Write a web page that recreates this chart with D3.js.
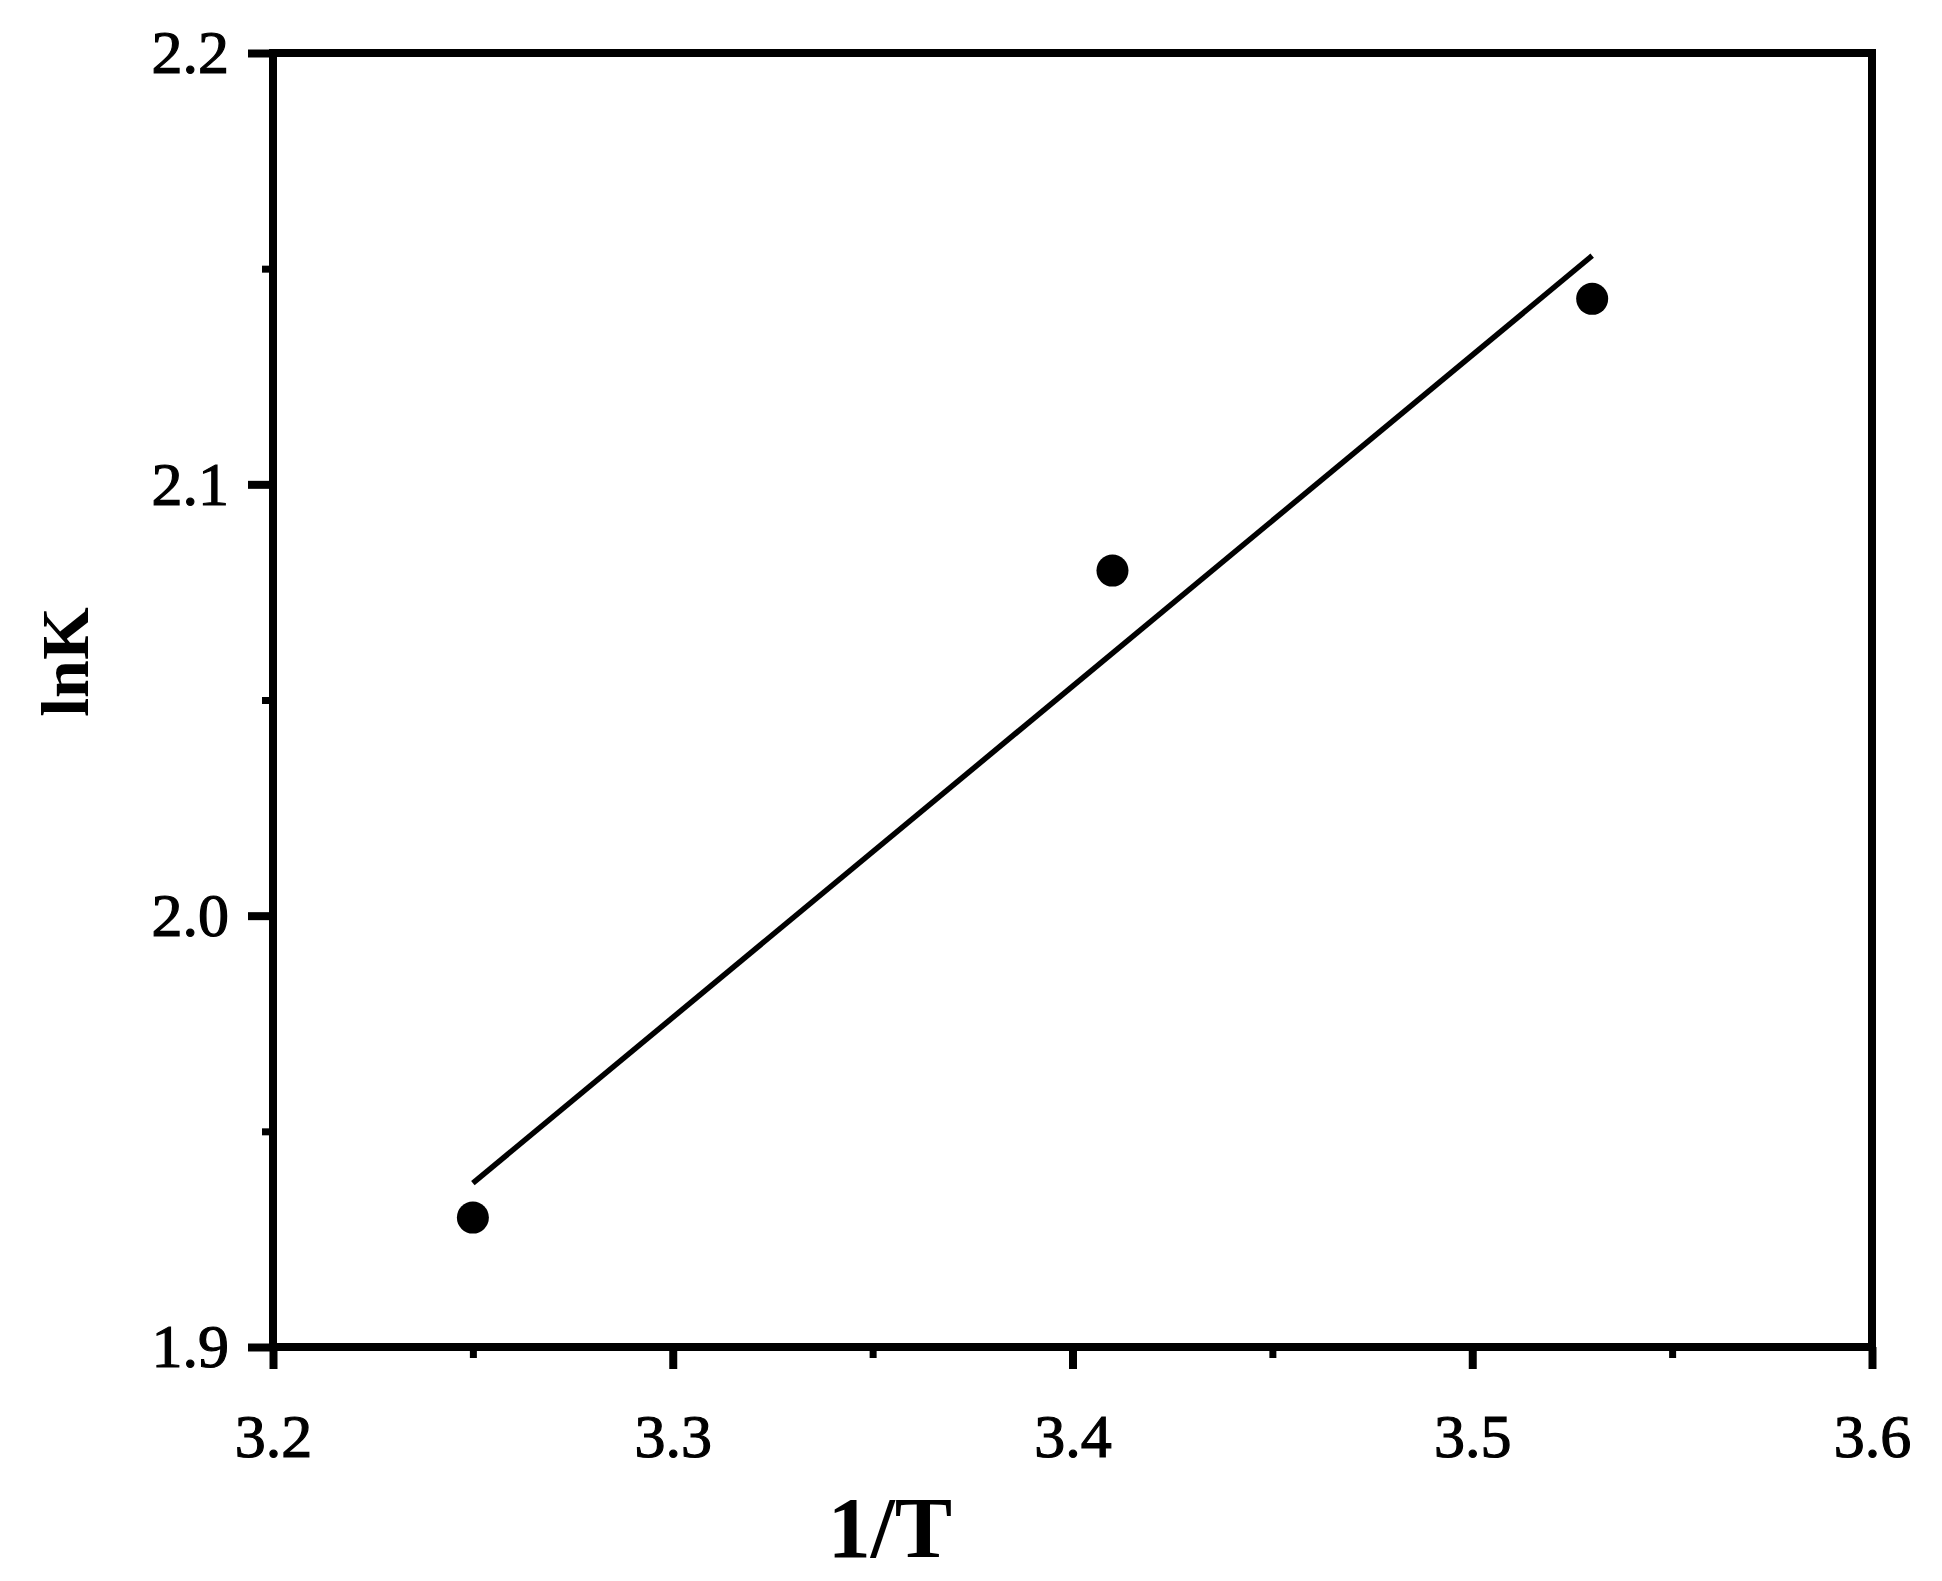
<!DOCTYPE html>
<html>
<head>
<meta charset="utf-8">
<script src="https://cdn.jsdelivr.net/npm/d3@7"></script>
<style>
  html, body { margin: 0; padding: 0; background: #ffffff; }
  svg { display: block; }
</style>
</head>
<body>
<script>
// ---- Data ----
const invT = [3.25, 3.41, 3.53];
const lnK = [1.930, 2.080, 2.143];
const fitInvT = [3.25, 3.53];
const fitLnK = [1.938, 2.153];
const xTicks = [3.2, 3.3, 3.4, 3.5, 3.6];
const xMinorTicks = [3.25, 3.35, 3.45, 3.55];
const yTicks = [1.9, 2.0, 2.1, 2.2];
const yMinorTicks = [1.95, 2.05, 2.15];
const xTitle = "1/T";
const yTitle = "lnK";

// ---- Layout ----
const W = 1942, H = 1581;
const L = 273, R = 1872, T = 53, B = 1347;
const font = "'Liberation Serif', 'Times New Roman', serif";

const svg = d3.select("body").append("svg").attr("width", W).attr("height", H);
svg.append("rect").attr("width", W).attr("height", H).attr("fill", "#fff");

const x = d3.scaleLinear().domain([3.2, 3.6]).range([L, R]);
const y = d3.scaleLinear().domain([1.9, 2.2]).range([B, T]);

// minor ticks
const xMinor = svg.append("g").attr("transform", `translate(0,${B})`)
  .call(d3.axisBottom(x).tickValues(xMinorTicks).tickSize(11).tickFormat(""));
const yMinor = svg.append("g").attr("transform", `translate(${L},0)`)
  .call(d3.axisLeft(y).tickValues(yMinorTicks).tickSize(11).tickFormat(""));
[xMinor, yMinor].forEach(g => {
  g.select(".domain").remove();
  g.selectAll("line").attr("stroke", "#000").attr("stroke-width", 7);
});

// major axes
const xAxis = svg.append("g").attr("transform", `translate(0,${B})`)
  .call(d3.axisBottom(x).tickValues(xTicks).tickSize(22).tickPadding(44).tickFormat(d3.format(".1f")));
const yAxis = svg.append("g").attr("transform", `translate(${L},0)`)
  .call(d3.axisLeft(y).tickValues(yTicks).tickSize(25).tickPadding(19).tickFormat(d3.format(".1f")));
[xAxis, yAxis].forEach(g => {
  g.select(".domain").remove();
  g.selectAll("line").attr("stroke", "#000").attr("stroke-width", 8);
  g.selectAll("text").attr("fill", "#000").attr("stroke", "#000").attr("stroke-width", 1.2)
    .style("font-family", font).style("font-size", "62px");
});

// frame
svg.append("rect")
  .attr("x", L).attr("y", T).attr("width", R - L).attr("height", B - T)
  .attr("fill", "none").attr("stroke", "#000").attr("stroke-width", 8);

// fit line
svg.append("path")
  .datum(d3.zip(fitInvT, fitLnK))
  .attr("d", d3.line().x(d => x(d[0])).y(d => y(d[1])))
  .attr("fill", "none").attr("stroke", "#000").attr("stroke-width", 5.5);

// points
svg.append("g").selectAll("circle")
  .data(d3.zip(invT, lnK))
  .join("circle")
  .attr("cx", d => x(d[0])).attr("cy", d => y(d[1]))
  .attr("r", 16).attr("fill", "#000");

// titles
svg.append("text")
  .attr("x", 890).attr("y", 1557)
  .attr("text-anchor", "middle")
  .style("font-family", font).style("font-weight", "bold").style("font-size", "86px")
  .text(xTitle);

svg.append("text")
  .attr("transform", "translate(88,662) rotate(-90)")
  .attr("text-anchor", "middle")
  .style("font-family", font).style("font-weight", "bold").style("font-size", "68px")
  .text(yTitle);
</script>
</body>
</html>
